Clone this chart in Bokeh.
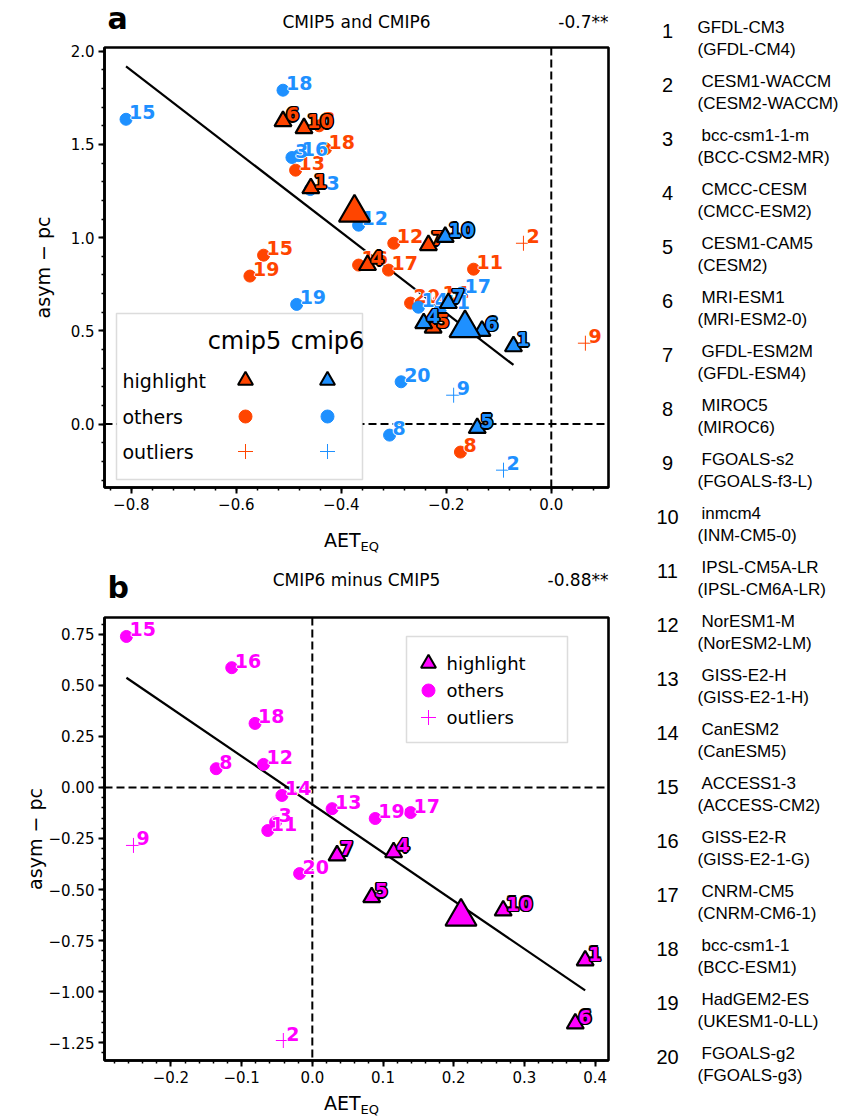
import numpy as np
from bokeh.plotting import figure
from bokeh.models import (Range1d, Span, Label, BoxAnnotation, SingleIntervalTicker,
                          CustomJSTickFormatter)
from bokeh.layouts import row, column
from bokeh.embed import file_html
from bokeh.resources import INLINE
from bokeh.core.properties import value

# ---------------- data ----------------
model_id = list(range(1, 21))
cmip5_names = ["GFDL-CM3", " CESM1-WACCM", " bcc-csm1-1-m", " CMCC-CESM", " CESM1-CAM5",
               " MRI-ESM1", " GFDL-ESM2M", " MIROC5", " FGOALS-s2", " inmcm4",
               " IPSL-CM5A-LR", " NorESM1-M", " GISS-E2-H", " CanESM2", " ACCESS1-3",
               " GISS-E2-R", " CNRM-CM5", " bcc-csm1-1", " HadGEM2-ES", " FGOALS-g2"]
cmip6_names = ["(GFDL-CM4)", "(CESM2-WACCM)", "(BCC-CSM2-MR)", "(CMCC-ESM2)", "(CESM2)",
               "(MRI-ESM2-0)", "(GFDL-ESM4)", "(MIROC6)", "(FGOALS-f3-L)", "(INM-CM5-0)",
               "(IPSL-CM6A-LR)", "(NorESM2-LM)", "(GISS-E2-1-H)", "(CanESM5)", "(ACCESS-CM2)",
               "(GISS-E2-1-G)", "(CNRM-CM6-1)", "(BCC-ESM1)", "(UKESM1-0-LL)", "(FGOALS-g3)"]
group = ["highlight", "outliers", "others", "highlight", "highlight", "highlight", "highlight",
         "others", "outliers", "highlight", "others", "others", "others", "others", "others",
         "others", "others", "others", "others", "others"]

cmip5_aet = [-0.458, -0.053, -0.442, -0.350, -0.225, -0.511, -0.234, -0.173, 0.065, -0.471,
             -0.148, -0.300, -0.487, -0.213, -0.548, -0.367, -0.310, -0.430, -0.574, -0.268]
cmip5_asym = [1.265, 0.970, 1.600, 0.853, 0.517, 1.625, 0.960, -0.150, 0.434, 1.587,
              0.831, 0.970, 1.362, 0.665, 0.906, 0.853, 0.826, 1.477, 0.794, 0.649]
cmip6_aet = [-0.072, -0.091, -0.494, -0.243, -0.141, -0.132, -0.196, -0.308, -0.186, -0.202,
             -0.211, -0.367, -0.459, -0.253, -0.810, -0.481, -0.171, -0.511, -0.485, -0.286]
cmip6_asym = [0.417, -0.247, 1.430, 0.541, -0.021, 0.500, 0.649, -0.059, 0.155, 1.004,
              0.620, 1.067, 1.258, 0.627, 1.635, 1.440, 0.703, 1.791, 0.642, 0.227]
diff_aet = [0.386, -0.041, -0.052, 0.115, 0.084, 0.372, 0.035, -0.136, -0.253, 0.270,
            -0.063, -0.069, 0.028, -0.043, -0.263, -0.114, 0.139, -0.081, 0.089, -0.018]
diff_asym = [-0.848, -1.240, -0.170, -0.318, -0.538, -1.157, -0.333, 0.092, -0.284, -0.603,
             -0.211, 0.113, -0.104, -0.039, 0.740, 0.587, -0.123, 0.314, -0.152, -0.422]

fit_a = (-2.17, 0.161)   # slope, intercept
fit_b = (-2.36, -0.083)
corr_a = "-0.7**"
corr_b = "-0.88**"
title_a = "CMIP5 and CMIP6"
title_b = "CMIP6 minus CMIP5"

C5 = "#FF4500"
C6 = "#1E90FF"
CD = "#FF00FF"
FONT = "DejaVu Sans"

# ---------------- layout constants (page pixels) ----------------
FL, FR = 104, 608
LEFT_W = 630
HDR_A = 42
A_TOP = HDR_A
A_FT, A_FB = 47, 487
A_H = 480
MID_TOP = A_TOP + A_H        # 522
MID_H = 90
B_TOP = MID_TOP + MID_H      # 612
B_FT, B_FB = 617, 1060
B_H = 483
FOOT_TOP = B_TOP + B_H       # 1095
FOOT_H = 1117 - FOOT_TOP

ax_xr = (-0.851, 0.109); ax_yr = (-0.34, 2.02)
bx_xr = (-0.294, 0.419); bx_yr = (-1.338, 0.833)


def conv(px, py, xr, yr, ft, fb):
    x = xr[0] + (px - FL) / (FR - FL) * (xr[1] - xr[0])
    y = yr[1] - (py - ft) / (fb - ft) * (yr[1] - yr[0])
    return x, y


def fmt(nd):
    return CustomJSTickFormatter(
        code="var v = Math.abs(tick) < 1e-9 ? 0 : tick; return v.toFixed(%d).replace('-', '\u2212');" % nd)


def make_fig(top, h, ft, fb, xr, yr, xint, yint, xnd, ynd, ystand):
    p = figure(width=LEFT_W, height=h, x_range=Range1d(*xr), y_range=Range1d(*yr),
               toolbar_location=None, output_backend="svg",
               min_border_left=FL, min_border_right=LEFT_W - FR,
               min_border_top=ft - top, min_border_bottom=top + h - fb)
    p.grid.visible = False
    p.outline_line_color = "black"
    p.outline_line_width = 2.6
    p.background_fill_color = "white"
    p.border_fill_color = "white"
    p.xaxis.ticker = SingleIntervalTicker(interval=xint, num_minor_ticks=5)
    p.yaxis.ticker = SingleIntervalTicker(interval=yint, num_minor_ticks=5)
    p.xaxis.formatter = fmt(xnd)
    p.yaxis.formatter = fmt(ynd)
    for ax in (p.xaxis, p.yaxis):
        ax.axis_line_width = 2.6
        ax.axis_line_color = "black"
        ax.major_tick_line_width = 2
        ax.major_tick_out = 6
        ax.major_tick_in = 0
        ax.minor_tick_line_width = 1.5
        ax.minor_tick_out = 3
        ax.minor_tick_in = 0
        ax.major_label_text_font = FONT
        ax.major_label_text_font_size = "15px"
        ax.major_label_text_color = "black"
        ax.major_label_standoff = 4
    p.yaxis.axis_label = "asym \u2212 pc"
    p.yaxis.axis_label_text_font = FONT
    p.yaxis.axis_label_text_font_size = "19px"
    p.yaxis.axis_label_text_font_style = "normal"
    p.yaxis.axis_label_text_color = "black"
    p.yaxis.axis_label_standoff = ystand
    p.add_layout(Span(location=0, dimension="width", line_color="black", line_width=2,
                      line_dash="8 4", level="underlay"))
    p.add_layout(Span(location=0, dimension="height", line_color="black", line_width=2,
                      line_dash="8 4", level="underlay"))
    return p


def text_fig(top, h, items):
    # frame aligned with the panels' frames (column aligns frames), so x = page pixels
    f = figure(width=LEFT_W, height=h, x_range=Range1d(FL, FR), y_range=Range1d(h, 0),
               toolbar_location=None, output_backend="svg", x_axis_location=None,
               y_axis_location=None, min_border_left=FL, min_border_right=LEFT_W - FR,
               min_border_top=0, min_border_bottom=0)
    f.grid.visible = False
    f.outline_line_color = None
    for (px, py, txt, size, style, align) in items:
        f.text([px], [py - top], text=[txt], text_font=value(FONT), text_font_size=size,
               text_font_style=style, text_align=align, text_baseline="middle",
               text_color="black")
    return f


def draw_fit(p, fit, xs_list):
    xs = []
    for xv in xs_list:
        xs += [x for x, g in zip(xv, group) if g != "outliers"]
    x0, x1 = min(xs), max(xs)
    m, b = fit
    p.line([x0, x1], [m * x0 + b, m * x1 + b], line_color="black", line_width=2.2)


HALO_W = [(-1, 0), (1, 0), (0, -1), (0, 1)]
HALO_B = [(-1.6, 0), (1.6, 0), (0, -1.6), (0, 1.6), (-1.1, -1.1), (1.1, -1.1), (-1.1, 1.1), (1.1, 1.1)]
LBL_DX, LBL_DY = 3, -7


def halo_text(p, x, y, t, color, halo_color, offsets):
    for dx, dy in offsets:
        p.text(x, y, text=t, x_offset=LBL_DX + dx, y_offset=LBL_DY + dy, text_font=value(FONT),
               text_font_style="bold", text_font_size="19px", text_color=halo_color,
               text_baseline="middle", text_align="left")
    p.text(x, y, text=t, x_offset=LBL_DX, y_offset=LBL_DY, text_font=value(FONT),
           text_font_style="bold", text_font_size="19px", text_color=color,
           text_baseline="middle", text_align="left")


def draw_plain(p, xs, ys, color):
    for g, mk in (("others", "circle"), ("outliers", "cross")):
        idx = [i for i, gg in enumerate(group) if gg == g]
        x = [xs[i] for i in idx]; y = [ys[i] for i in idx]
        t = [str(model_id[i]) for i in idx]
        if mk == "circle":
            p.scatter(x, y, marker="circle", size=12, fill_color=color, line_color=color)
        else:
            p.scatter(x, y, marker="cross", size=15, line_color=color, line_width=1)
        halo_text(p, x, y, t, color, "white", HALO_W)


def draw_high(p, xs, ys, color):
    idx = [i for i, gg in enumerate(group) if gg == "highlight"]
    x = [xs[i] for i in idx]; y = [ys[i] for i in idx]
    t = [str(model_id[i]) for i in idx]
    p.scatter(x, y, marker="triangle", size=17, fill_color=color, line_color="black",
              line_width=2.2)
    halo_text(p, x, y, t, color, "black", HALO_B)


def draw_mean(p, xs, ys, color):
    idx = [i for i, gg in enumerate(group) if gg == "highlight"]
    mx = float(np.mean([xs[i] for i in idx])); my = float(np.mean([ys[i] for i in idx]))
    p.scatter([mx], [my], marker="triangle", size=31, fill_color=color, line_color="black",
              line_width=2.2)


def add_label(p, px, py, text, conv_args, size, baseline="middle", align="left"):
    x, y = conv(px, py, *conv_args)
    p.add_layout(Label(x=x, y=y, text=text, text_font=FONT, text_font_size=size,
                       text_align=align, text_baseline=baseline, text_color="black"))


# ---------------- panel a ----------------
pa = make_fig(A_TOP, A_H, A_FT, A_FB, ax_xr, ax_yr, 0.2, 0.5, 1, 1, 14)
ca = (ax_xr, ax_yr, A_FT, A_FB)
draw_fit(pa, fit_a, [cmip5_aet, cmip6_aet])
draw_plain(pa, cmip5_aet, cmip5_asym, C5)
draw_plain(pa, cmip6_aet, cmip6_asym, C6)
draw_high(pa, cmip5_aet, cmip5_asym, C5)
draw_high(pa, cmip6_aet, cmip6_asym, C6)
draw_mean(pa, cmip5_aet, cmip5_asym, C5)
draw_mean(pa, cmip6_aet, cmip6_asym, C6)

# legend a
l, t = conv(116, 313, *ca); r, b = conv(362, 479, *ca)
pa.add_layout(BoxAnnotation(left=l, right=r, top=t, bottom=b, fill_color="white", fill_alpha=1,
                            line_color="#8c8c8c", line_width=1.5))
add_label(pa, 244, 340, "cmip5", ca, "24px", align="center")
add_label(pa, 327, 340, "cmip6", ca, "24px", align="center")
rows_y = [380, 416, 451]
for lab, yy in zip(["highlight", "others", "outliers"], rows_y):
    add_label(pa, 122, yy, lab, ca, "19px")
for col_x, color in ((245, C5), (327, C6)):
    xs_, ys_ = zip(*[conv(col_x, yy, *ca) for yy in rows_y])
    pa.scatter([xs_[0]], [ys_[0]], marker="triangle", size=15, fill_color=color,
               line_color="black", line_width=2, level="overlay")
    pa.scatter([xs_[1]], [ys_[1]], marker="circle", size=13, fill_color=color,
               line_color=color, level="overlay")
    pa.scatter([xs_[2]], [ys_[2]], marker="cross", size=15, line_color=color,
               line_width=1, level="overlay")

# ---------------- panel b ----------------
pb = make_fig(B_TOP, B_H, B_FT, B_FB, bx_xr, bx_yr, 0.1, 0.25, 1, 2, 0)
cb = (bx_xr, bx_yr, B_FT, B_FB)
draw_fit(pb, fit_b, [diff_aet])
draw_plain(pb, diff_aet, diff_asym, CD)
draw_high(pb, diff_aet, diff_asym, CD)
draw_mean(pb, diff_aet, diff_asym, CD)

l, t = conv(406, 636, *cb); r, b = conv(567, 742, *cb)
pb.add_layout(BoxAnnotation(left=l, right=r, top=t, bottom=b, fill_color="white", fill_alpha=1,
                            line_color="#8c8c8c", line_width=1.5))
rows_yb = [663, 690, 717]
for lab, yy in zip(["highlight", "others", "outliers"], rows_yb):
    add_label(pb, 446, yy, lab, cb, "18px")
xs_, ys_ = zip(*[conv(428, yy, *cb) for yy in rows_yb])
pb.scatter([xs_[0]], [ys_[0]], marker="triangle", size=15, fill_color=CD,
           line_color="black", line_width=2, level="overlay")
pb.scatter([xs_[1]], [ys_[1]], marker="circle", size=13, fill_color=CD,
           line_color=CD, level="overlay")
pb.scatter([xs_[2]], [ys_[2]], marker="cross", size=15, line_color=CD,
           line_width=1, level="overlay")

# ---------------- titles / axis labels (y = visual middle) ----------------
hdr_a = text_fig(0, HDR_A, [
    (107, 18, "a", "30px", "bold", "left"),
    (356, 21, title_a, "17px", "normal", "center"),
    (608, 21, corr_a, "17px", "normal", "right"),
])
mid = text_fig(MID_TOP, MID_H, [
    (360, 539, "AET", "19px", "normal", "right"),
    (360, 546, "EQ", "13px", "normal", "left"),
    (107, 587, "b", "30px", "bold", "left"),
    (356, 579, title_b, "17px", "normal", "center"),
    (608, 579, corr_b, "17px", "normal", "right"),
])
foot = text_fig(FOOT_TOP, FOOT_H, [
    (360, 1102, "AET", "19px", "normal", "right"),
    (360, 1109, "EQ", "13px", "normal", "left"),
])

# ---------------- model list ----------------
pl = figure(width=853 - LEFT_W, height=1117, x_range=Range1d(LEFT_W, 853),
            y_range=Range1d(1117, 0), toolbar_location=None, output_backend="svg",
            x_axis_location=None, y_axis_location=None, min_border=0)
pl.grid.visible = False
pl.outline_line_color = None
num_y = [30 + 54 * i for i in range(len(model_id))]
pl.text([667] * len(model_id), num_y, text=[str(m) for m in model_id],
        text_font=value("Liberation Sans"), text_font_size="20px", text_color="black",
        text_align="center", text_baseline="middle")
n5x = [701 if n.startswith(" ") else 697 for n in cmip5_names]
pl.text(n5x, [y - 3 for y in num_y], text=[n.strip() for n in cmip5_names],
        text_font=value("Liberation Sans"), text_font_size="17px", text_color="black",
        text_align="left", text_baseline="middle")
pl.text([697] * len(model_id), [y + 19 for y in num_y], text=cmip6_names,
        text_font=value("Liberation Sans"), text_font_size="17px", text_color="black",
        text_align="left", text_baseline="middle")

layout = row(column(hdr_a, pa, mid, pb, foot), pl)
open("out.html", "w").write(file_html(layout, INLINE))
